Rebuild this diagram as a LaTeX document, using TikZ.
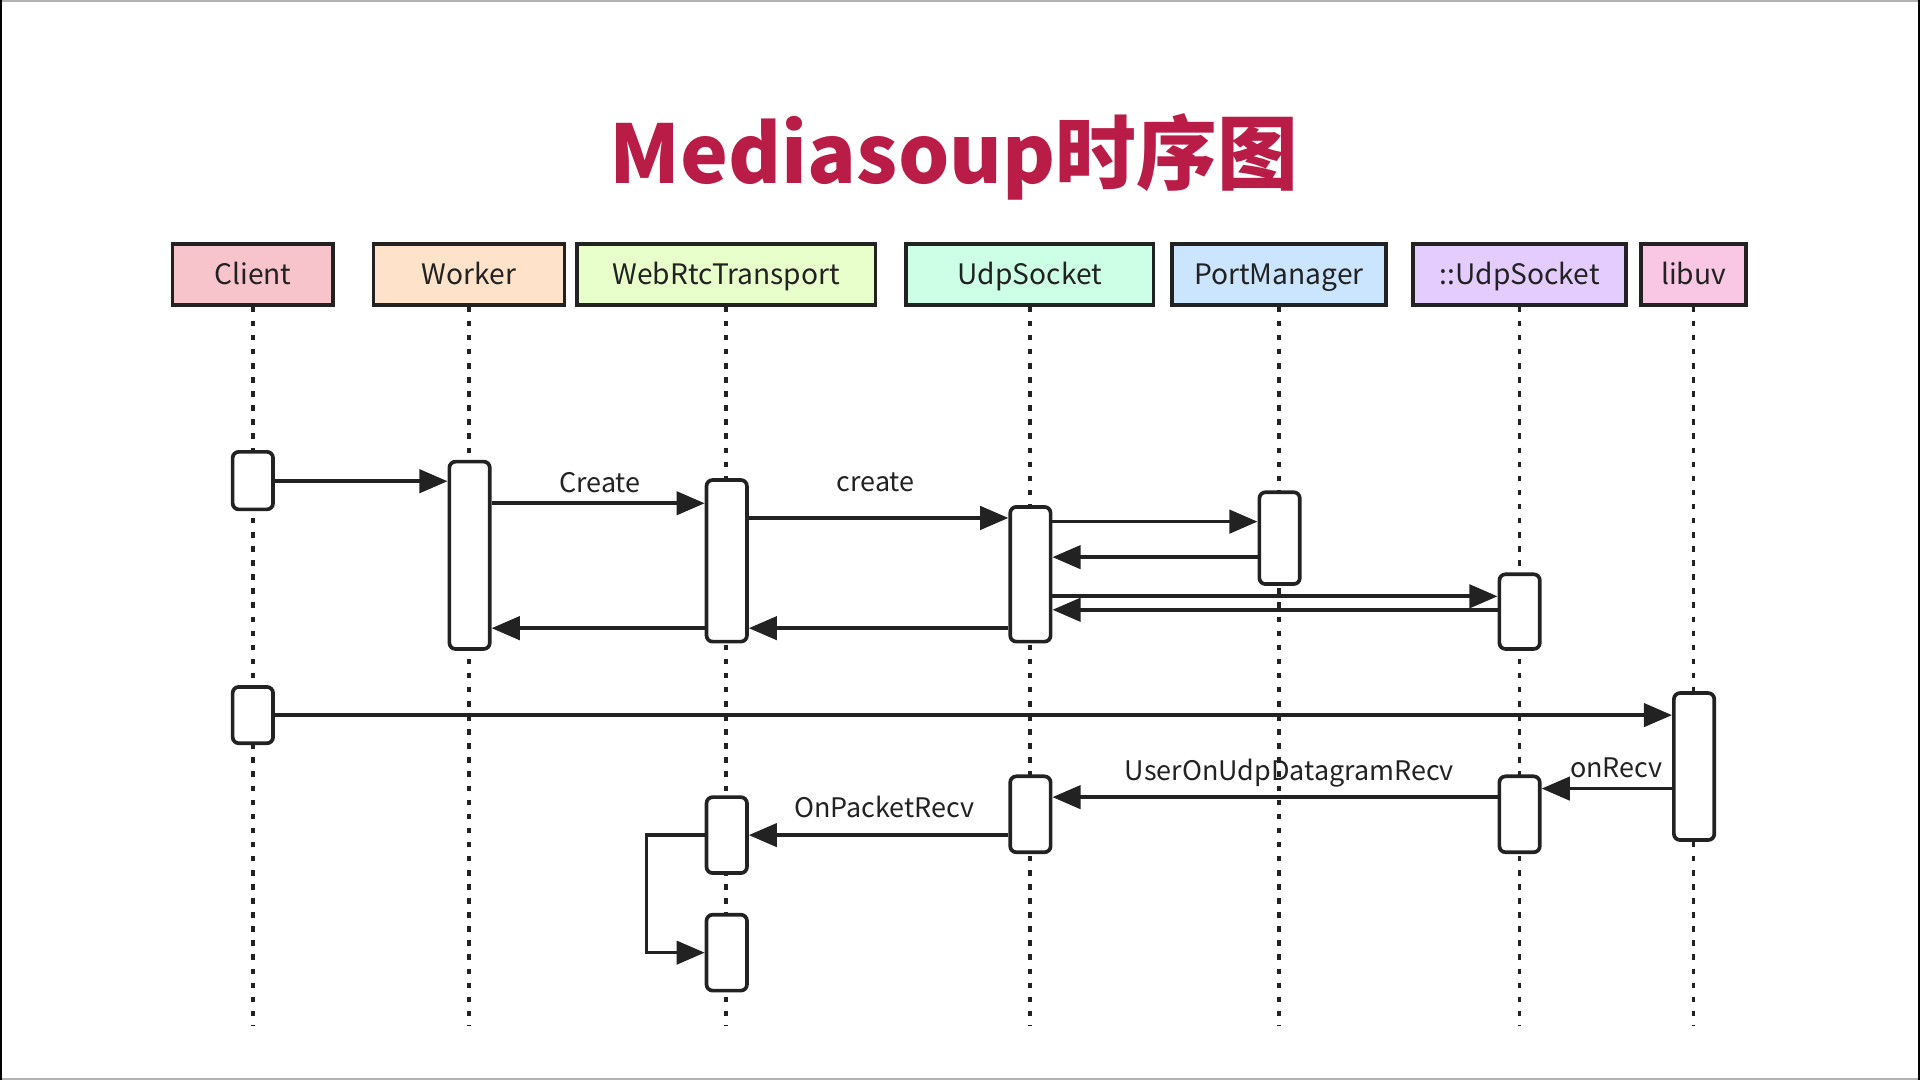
\documentclass[tikz,border=0pt]{standalone}
\usepackage{fontspec}
\setmainfont{Noto Sans CJK SC}
\usetikzlibrary{arrows.meta}
\definecolor{ttl}{HTML}{B91D47}
\definecolor{linec}{HTML}{222222}
\definecolor{cClient}{HTML}{F8C4CC}
\definecolor{cWorker}{HTML}{FFE2CA}
\definecolor{cWebRtc}{HTML}{E8FFCC}
\definecolor{cUdp}{HTML}{CCFFE6}
\definecolor{cPort}{HTML}{CCE5FF}
\definecolor{cXUdp}{HTML}{E5CCFF}
\definecolor{cLibuv}{HTML}{F9C6E4}
\begin{document}
\begin{tikzpicture}[x=1pt,y=-1pt,
  hdr/.style={draw=linec, line width=3pt, minimum height=50pt, inner sep=0pt,
    text height=16pt, text depth=0pt, text=linec, font=\fontsize{23}{26}\selectfont},
  act/.style={draw=linec, line width=3pt, fill=white, rounded corners=5pt,
    minimum width=33pt, inner sep=0pt},
  life/.style={line width=3pt, draw=linec, dash pattern=on 4.5pt off 7pt},
  msg/.style={line width=3pt, draw=linec, -{Triangle[length=23pt,width=19pt]}},
  lbl/.style={font=\fontsize{22}{24}\selectfont, anchor=base, inner sep=0pt, text=linec}]
\useasboundingbox (0,0) rectangle (1568,882);
\fill[white] (0,0) rectangle (1568,882);
% frame
\draw[gray!60, line width=1.5pt] (0,0.8) -- (1568,0.8);
\draw[gray!60, line width=1.5pt] (0,881.2) -- (1568,881.2);
\draw[black, line width=2pt] (1,0) -- (1,882);
\draw[black, line width=2pt] (1567,0) -- (1567,882);
% title
\node[anchor=base, inner sep=0pt, text=ttl, font=\bfseries\fontsize{66}{74}\selectfont] (title) at (779,150) {Mediasoup时序图};
% headers
\node[hdr, fill=cClient, minimum width=131pt] (hC) at (206.5,224) {Client};
\node[hdr, fill=cWorker, minimum width=156pt] (hW) at (383,224) {Worker};
\node[hdr, fill=cWebRtc, minimum width=244pt] (hT) at (593,224) {WebRtcTransport};
\node[hdr, fill=cUdp, minimum width=202pt] (hU) at (841,224) {UdpSocket};
\node[hdr, fill=cPort, minimum width=175pt] (hP) at (1044.5,224) {PortManager};
\node[hdr, fill=cXUdp, minimum width=174pt] (hX) at (1241,224) {::UdpSocket};
\node[hdr, fill=cLibuv, minimum width=86pt] (hL) at (1383,224) {libuv};
% lifelines
\foreach \h in {hC,hW,hT,hU,hP,hX,hL}{
  \draw[life] (\h.south) -- (\h.south |- 0,838);
}
% activations
\node[act, minimum height=47pt] (cl1) at (206.5,392.5) {};
\node[act, minimum height=153pt] (wk) at (383.5,453.5) {};
\node[act, minimum height=132pt] (wt1) at (593.5,458) {};
\node[act, minimum height=110pt] (us1) at (841.5,469) {};
\node[act, minimum height=75pt] (pm) at (1045,439.5) {};
\node[act, minimum height=61pt] (xu1) at (1241,499.5) {};
\node[act, minimum height=46pt] (cl2) at (206.5,584) {};
\node[act, minimum height=120pt] (lv) at (1383.5,626) {};
\node[act, minimum height=62pt] (xu2) at (1241,665) {};
\node[act, minimum height=62pt] (us2) at (841.5,665) {};
\node[act, minimum height=62pt] (wt2) at (593.5,682) {};
\node[act, minimum height=62pt] (wt3) at (593.5,778) {};
% messages
\draw[msg] (cl1.east |- 0,393) -- (wk.west |- 0,393);
\draw[msg] (wk.east |- 0,411) -- (wt1.west |- 0,411);
\node[lbl] (lCreate) at (490,402) {Create};
\draw[msg] (wt1.east |- 0,423) -- (us1.west |- 0,423);
\node[lbl] (lcreate) at (715,401) {create};
\draw[msg] (us1.east |- 0,426) -- (pm.west |- 0,426);
\draw[msg] (pm.west |- 0,455) -- (us1.east |- 0,455);
\draw[msg] (us1.east |- 0,487) -- (xu1.west |- 0,487);
\draw[msg] (xu1.west |- 0,498) -- (us1.east |- 0,498);
\draw[msg] (us1.west |- 0,513) -- (wt1.east |- 0,513);
\draw[msg] (wt1.west |- 0,513) -- (wk.east |- 0,513);
\draw[msg] (cl2.east |- 0,584) -- (lv.west |- 0,584);
\draw[msg] (lv.west |- 0,644) -- (xu2.east |- 0,644);
\node[lbl] (lonRecv) at (1320,635) {onRecv};
\draw[msg] (xu2.west |- 0,651) -- (us2.east |- 0,651);
\node[lbl] (lUser) at (1053,637) {UserOnUdpDatagramRecv};
\draw[msg] (us2.west |- 0,682) -- (wt2.east |- 0,682);
\node[lbl] (lOnPacket) at (722,668) {OnPacketRecv};
\coordinate (loopL) at (528,682);
\draw[msg] (wt2.west) -- (loopL) |- (wt3.west);
\end{tikzpicture}
\end{document}
